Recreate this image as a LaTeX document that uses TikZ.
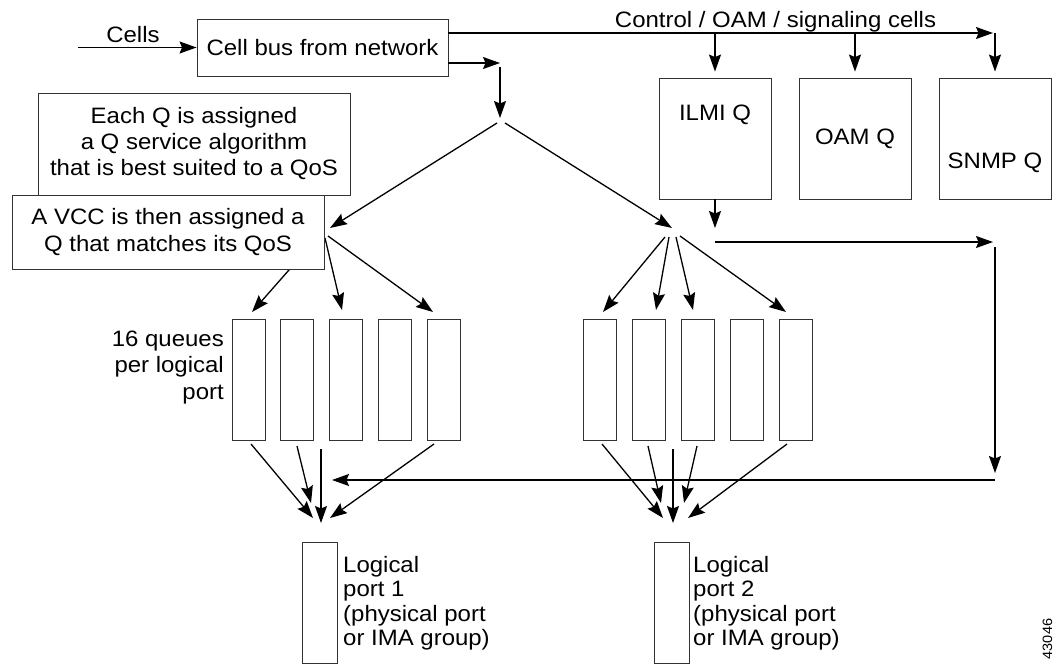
\documentclass[tikz,border=0pt]{standalone}
\usepackage{fontspec}
\setmainfont{Liberation Sans}[FakeStretch=1.075]
\usetikzlibrary{arrows.meta}
\newcommand\dfont{\fontsize{22.3}{24.5}\selectfont}
\begin{document}
\begin{tikzpicture}[x=1pt,y=-1pt,
  arr/.style={-{Stealth[length=17pt,width=12pt,inset=2.5pt]}, line width=1.3pt},
  tbox/.style={draw=black!80, fill=white, line width=0.9pt, inner sep=0pt, align=center, font=\dfont},
  cbox/.style={tbox, minimum width=112pt, minimum height=121pt},
  qbox/.style={draw=black!80, fill=white, line width=0.9pt, inner sep=0pt, minimum width=33pt, minimum height=121pt},
  pbox/.style={qbox, minimum width=35pt},
  txt/.style={inner sep=0pt, font=\dfont},
]
\useasboundingbox (0,0) rectangle (1055,664);

% incoming cell bus
\node[tbox, minimum width=251pt, minimum height=57pt] (bus) at (322.5,47.5) {Cell bus from network};
\coordinate (cin) at (78,47.5);
\draw[arr] (cin) -- (bus.west);
\node[txt, anchor=base] (cellslbl) at (133,42) {Cells};

% control / OAM / signaling branch
\coordinate (ctlend) at (993,33);
\draw[arr] (bus.east |- ctlend) -- (ctlend);
\node[txt, anchor=base] (ctllbl) at (775.5,27) {Control / OAM / signaling cells};
\node[cbox, label={[txt,yshift=23.5pt]center:ILMI Q}] (ilmi) at (715,138.5) {};
\node[cbox] (oam) at (855,138.5) {OAM Q};
\node[cbox, label={[txt,yshift=-24.5pt]center:SNMP Q}] (snmp) at (995,138.5) {};
\foreach \q in {ilmi,oam,snmp}
  \draw[arr, shorten >=6pt] (\q.north |- ctlend) -- (\q.north);

% return path from ILMI queue
\coordinate (ilmitip) at (715,228);
\draw[arr] (ilmi.south) -- (ilmitip);
\coordinate (ret0) at (715,242);
\coordinate (ret1) at (993,242);
\draw[arr] (ret0) -- (ret1);
\coordinate (ret2) at (995,247);
\coordinate (ret3) at (995,473);
\draw[arr] (ret2) -- (ret3);
\coordinate (ret4) at (995,480);
\coordinate (ret5) at (332,480);
\draw[arr] (ret4) -- (ret5);

% data branch and split
\coordinate (d0) at (500,63);
\draw[arr] (bus.east |- d0) -- (d0);
\coordinate (d1) at (500,67);
\coordinate (d2) at (500,118);
\draw[arr] (d1) -- (d2);
\coordinate (dl) at (497,123);
\coordinate (dr) at (505,123);
\coordinate (lsplit) at (330,228);
\coordinate (rsplit) at (672,228);
\draw[arr] (dl) -- (lsplit);
\draw[arr] (dr) -- (rsplit);

% queues per logical port
\foreach \x [count=\i] in {248.5,297,346,395,444}
  \node[qbox] (l\i) at (\x,379.5) {};
\foreach \x [count=\i] in {600,649,698,746.5,795.5}
  \node[qbox] (r\i) at (\x,379.5) {};

% fan-out to the first port's queues
\coordinate (lf1) at (318,237);  \coordinate (lt1) at (252,312);
\coordinate (lf2) at (325,238);  \coordinate (lt2) at (342,310);
\coordinate (lf3) at (328,236);  \coordinate (lt3) at (433,312);
\draw[arr] (lf1) -- (lt1);
\draw[arr] (lf2) -- (lt2);
\draw[arr] (lf3) -- (lt3);

% fan-out to the second port's queues
\coordinate (rf1) at (665,237);  \coordinate (rt1) at (603,312);
\coordinate (rf2) at (669,237);  \coordinate (rt2) at (656,310);
\coordinate (rf3) at (676,237);  \coordinate (rt3) at (693,310);
\coordinate (rf4) at (680,236);  \coordinate (rt4) at (786,312);
\draw[arr] (rf1) -- (rt1);
\draw[arr] (rf2) -- (rt2);
\draw[arr] (rf3) -- (rt3);
\draw[arr] (rf4) -- (rt4);

% explanatory boxes
\node[tbox, minimum width=312pt, minimum height=102pt, font=\fontsize{22.3}{26}\selectfont] (note1) at (194,144)
  {Each Q is assigned\\a Q service algorithm\\that is best suited to a QoS};
\node[tbox, minimum width=312pt, minimum height=74pt, font=\fontsize{22.3}{27}\selectfont] (note2) at (168,232)
  {A VCC is then assigned a\\Q that matches its QoS};
\node[txt, anchor=north east, align=right, font=\fontsize{22.3}{26.5}\selectfont] (qlbl) at (224,330.5)
  {16 queues\\per logical\\port};

% merge into logical port 1
\coordinate (lb1) at (251,444);  \coordinate (lm1) at (313,518);
\coordinate (lb2) at (297,446);  \coordinate (lm2) at (311,503);
\coordinate (lb3) at (321,449);  \coordinate (lm3) at (321,523);
\coordinate (lb4) at (434,444);  \coordinate (lm4) at (330,518);
\foreach \i in {1,...,4} \draw[arr] (lb\i) -- (lm\i);

% merge into logical port 2
\coordinate (rb1) at (602,444);  \coordinate (rm1) at (663,518);
\coordinate (rb2) at (648,446);  \coordinate (rm2) at (661,503);
\coordinate (rb3) at (673,449);  \coordinate (rm3) at (673,523);
\coordinate (rb4) at (697,446);  \coordinate (rm4) at (684,503);
\coordinate (rb5) at (787,444);  \coordinate (rm5) at (688,518);
\foreach \i in {1,...,5} \draw[arr] (rb\i) -- (rm\i);

% logical ports
\node[pbox] (p1) at (319.5,602.5) {};
\node[pbox] (p2) at (671.5,602.5) {};
\node[txt, anchor=north west, align=left] (p1lbl) at (343,556)
  {Logical\\port 1\\(physical port\\or IMA group)};
\node[txt, anchor=north west, align=left] (p2lbl) at (693,556)
  {Logical\\port 2\\(physical port\\or IMA group)};

\node[inner sep=0pt, rotate=90, font=\fontsize{13.5}{15}\selectfont] (fig) at (1047.5,639) {43046};
\end{tikzpicture}
\end{document}
